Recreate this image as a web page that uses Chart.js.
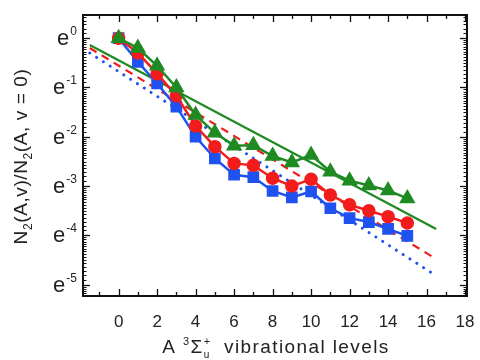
<!DOCTYPE html>
<html><head><meta charset="utf-8">
<script src="https://cdn.jsdelivr.net/npm/chart.js@4"></script>
<style>html,body{margin:0;padding:0;background:#fff}#wrap{width:480px;height:360px}</style>
</head><body><div id="wrap"><canvas id="c" width="480" height="360"></canvas></div>
<script>
// vibrational levels
const levels = [0,1,2,3,4,5,6,7,8,9,10,11,12,13,14,15];
// natural-log of population ratio N2(A,v)/N2(A,v=0)
const lnGreen = [0,-0.20,-0.56,-1.00,-1.56,-1.92,-2.18,-2.17,-2.39,-2.52,-2.37,-2.71,-2.89,-2.99,-3.09,-3.25];
const lnRed   = [0,-0.30,-0.72,-1.17,-1.78,-2.20,-2.54,-2.58,-2.84,-3.00,-2.86,-3.18,-3.38,-3.50,-3.62,-3.75];
const lnBlue  = [0,-0.48,-0.92,-1.39,-2.00,-2.44,-2.77,-2.82,-3.10,-3.23,-3.11,-3.45,-3.65,-3.73,-3.87,-4.01];
// straight-line fits (endpoints)
const fitX = [-1.5, 16.5];
const fitGreen = [-0.14, -3.87];
const fitRed   = [-0.20, -4.48];
const fitBlue  = [-0.30, -4.82];
// tick labels
const xTicks = [0,2,4,6,8,10,12,14,16,18];
const yTicks = [0,-1,-2,-3,-4,-5];

const GREEN='#1f8a22', RED='#f21c1c', BLUE='#1f52f0';
const pts = (xs, ys) => xs.map((x,i)=>({x:x, y:ys[i]}));
const FONT = "'Liberation Sans', Arial, sans-serif";

const decor = {
  id:'decor',
  afterDraw(chart){
    const ctx = chart.ctx, a = chart.chartArea, xs = chart.scales.x, ys = chart.scales.y;
    ctx.save();
    ctx.strokeStyle='#111'; ctx.lineWidth=1.3;
    for(let v=-1; v<=18; v++){
      const px = Math.round(xs.getPixelForValue(v))+0.5;
      const L = (v%2===0)?7:4;
      ctx.beginPath(); ctx.moveTo(px,a.bottom); ctx.lineTo(px,a.bottom-L); ctx.stroke();
      ctx.beginPath(); ctx.moveTo(px,a.top); ctx.lineTo(px,a.top+L); ctx.stroke();
    }
    for(let n=0; n>=-5; n--){
      const py = Math.round(ys.getPixelForValue(n))+0.5;
      ctx.beginPath(); ctx.moveTo(a.left,py); ctx.lineTo(a.left+7,py); ctx.stroke();
      ctx.beginPath(); ctx.moveTo(a.right,py); ctx.lineTo(a.right-7,py); ctx.stroke();
    }
    ctx.lineWidth=1;
    for(let n=1; n>=-5; n--){
      const hi=Math.exp(n), lo=Math.exp(n-1);
      for(let k=1;k<16;k++){
        const val=Math.log(lo+k*(hi-lo)/16);
        if(val>ys.max||val<ys.min) continue;
        const py=Math.round(ys.getPixelForValue(val))+0.5;
        ctx.beginPath(); ctx.moveTo(a.left,py); ctx.lineTo(a.left+3.5,py); ctx.stroke();
        ctx.beginPath(); ctx.moveTo(a.right,py); ctx.lineTo(a.right-3.5,py); ctx.stroke();
      }
    }
    ctx.lineWidth=2; ctx.strokeStyle='#111';
    ctx.strokeRect(a.left,a.top,a.right-a.left,a.bottom-a.top);
    // y tick labels e^n
    ctx.fillStyle='#222'; ctx.textBaseline='alphabetic';
    yTicks.forEach(n=>{
      const py = ys.getPixelForValue(n);
      const sup = n===0?'0':'-'+(-n);
      ctx.font = "12px "+FONT;
      const sw = ctx.measureText(sup).width;
      ctx.textAlign='left';
      const supX = a.left-6-sw;
      ctx.fillText(sup, supX, py-3);
      ctx.font = "22px "+FONT;
      ctx.textAlign='right';
      ctx.fillText('e', supX-1, py+7);
    });
    // y title
    ctx.save();
    ctx.translate(27, (a.top+a.bottom)/2+1);
    ctx.rotate(-Math.PI/2);
    ctx.letterSpacing='0.6px';
    const parts=[['N',19,0],['2',12,5],['(A,v)/N',19,0],['2',12,5],['(A, v = 0)',19,0]];
    let tw=0; parts.forEach(p=>{ctx.font=p[1]+"px "+FONT; tw+=ctx.measureText(p[0]).width;});
    let cx=-tw/2; ctx.textAlign='left';
    parts.forEach(p=>{ctx.font=p[1]+"px "+FONT; ctx.fillText(p[0],cx,p[2]); cx+=ctx.measureText(p[0]).width;});
    ctx.restore();
    // x title
    ctx.save();
    ctx.letterSpacing='1.4px';
    const xp=[['A ',19,0],['3',11,-8],['\u03A3',19,0],['+',11,-8],['u',10,5],['  vibrational levels',19,0]];
    let xw=0; xp.forEach((p,i)=>{ctx.font=p[1]+"px "+FONT; if(i!==3) xw+=ctx.measureText(p[0]).width;});
    let xx=276-xw/2; const by=353;
    ctx.textAlign='left';
    xp.forEach((p,i)=>{ctx.font=p[1]+"px "+FONT; ctx.fillText(p[0],xx,by+p[2]);
      const w=ctx.measureText(p[0]).width; if(i!==3) xx+=w; });
    ctx.restore();
    ctx.restore();
  }
};

new Chart(document.getElementById('c'), {
  type:'scatter',
  data:{ datasets:[
    {data:pts(levels,lnGreen), showLine:true, borderColor:GREEN, backgroundColor:GREEN, borderWidth:2.5, pointStyle:'triangle', pointRadius:7, order:1},
    {data:pts(levels,lnRed), showLine:true, borderColor:RED, backgroundColor:RED, borderWidth:2.5, pointStyle:'circle', pointRadius:5.5, order:2},
    {data:pts(levels,lnBlue), showLine:true, borderColor:BLUE, backgroundColor:BLUE, borderWidth:2.5, pointStyle:'rect', pointRadius:6.5, order:3},
    {data:pts(fitX,fitGreen), showLine:true, borderColor:GREEN, borderWidth:2.2, pointRadius:0, order:4},
    {data:pts(fitX,fitRed), showLine:true, borderColor:RED, borderWidth:2.2, borderDash:[8,6], pointRadius:0, order:5},
    {data:pts(fitX,fitBlue), showLine:true, borderColor:BLUE, borderWidth:3, borderDash:[0.1,8], borderCapStyle:'round', pointRadius:0, order:6}
  ]},
  options:{
    responsive:false, animation:false, devicePixelRatio:1,
    layout:{padding:{top:15,right:13,left:0,bottom:0}},
    plugins:{legend:{display:false}, tooltip:{enabled:false}},
    scales:{
      x:{type:'linear', min:-1.85, max:18.1,
        afterBuildTicks:s=>{s.ticks=xTicks.map(v=>({value:v}));},
        afterFit:s=>{s.height=64; s.paddingLeft=0; s.paddingRight=0;},
        grid:{display:false, drawTicks:false}, border:{display:false},
        ticks:{font:{size:17,family:FONT}, color:'#222', padding:16, maxRotation:0}
      },
      y:{type:'linear', min:-5.23, max:0.47,
        afterBuildTicks:s=>{s.ticks=yTicks.map(v=>({value:v}));},
        afterFit:s=>{s.width=83; s.paddingTop=0; s.paddingBottom=0;},
        grid:{display:false, drawTicks:false}, border:{display:false},
        ticks:{display:false}
      }
    }
  },
  plugins:[decor]
});
</script></body></html>
